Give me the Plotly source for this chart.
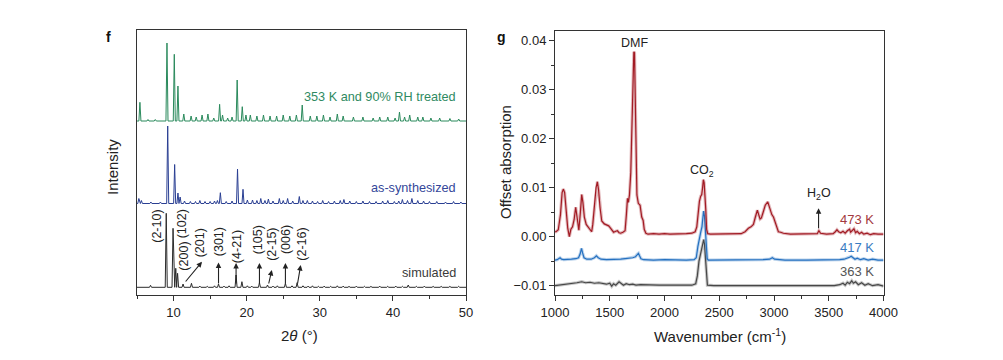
import plotly.graph_objects as go

# ---------------- DATA ----------------
# Panel f: XRD patterns (2theta in degrees, intensity in arbitrary offset units)
sim_offset = 7.7
sim_2theta = [6.85, 9.0, 9.93, 10.3, 10.55, 11.3, 12.45, 13.6, 14.6, 15.6, 16.15, 16.9, 17.6, 18.55, 19.35,
              20.1, 20.7, 21.75, 22.85, 23.6, 24.2, 25.3, 26.2, 26.9, 27.7, 28.4, 29.0, 29.8, 30.6, 31.5,
              32.4, 33.2, 34.0, 35.0, 36.1, 37.0, 38.2, 39.3, 40.4, 41.3, 42.1, 43.2, 44.3, 45.5, 46.6,
              47.8, 49.0]
sim_height = [2, 74, 59, 19, 14, 3.3, 4, 1.2, 1, 1.5, 3.3, 1.2, 1.5, 12.3, 5.6,
              1.5, 1.2, 4.6, 2.3, 1.2, 1.5, 4, 1.5, 4.6, 1.5, 1.2, 1.5, 1, 1.2, 1,
              1.5, 1.2, 1, 1.2, 1, 1, 1.2, 1, 1.2, 1, 2.3, 1, 1.2, 1, 1,
              1, 1]

as_offset = 91.5
as_2theta = [5.25, 5.6, 6.9, 8.2, 9.2, 10.15, 10.6, 10.9, 11.5, 12.3, 13.0, 13.6, 14.3, 15.0, 15.6,
             16.0, 16.4, 17.2, 18.0, 18.75, 19.5, 20.1, 20.8, 21.4, 21.93, 22.5, 22.97, 23.6, 24.47, 25.0,
             25.6, 26.3, 27.2, 27.7, 28.3, 29.0, 29.7, 30.4, 31.2, 32.0, 32.8, 33.3, 34.1, 35.0, 35.9,
             36.8, 37.7, 38.6, 39.3, 40.2, 40.8, 41.3, 42.0, 42.6, 43.4, 44.2, 45.0, 46.0, 47.2, 48.3, 49.3]
as_height = [5, 3, 1.5, 1.5, 77.5, 39, 10.5, 6.5, 2.5, 2, 2, 3, 2, 2, 2.5,
             3, 10.8, 2, 2.5, 34.5, 14.2, 3.5, 3.5, 3, 5, 3, 4.5, 2.5, 5, 3,
             5, 2.5, 7, 3, 3, 2.5, 2, 3, 2, 2.5, 3, 4, 2.5, 2, 2.5,
             2, 2, 2.5, 3, 2, 2.5, 4, 3, 5, 3, 2.5, 2, 2, 1.5, 2, 1.5]

tr_offset = 174
tr_2theta = [5.4, 6.5, 7.5, 9.1, 10.1, 10.6, 11.4, 12.4, 13.1, 13.9, 14.7, 15.5, 16.3, 16.7, 17.4,
             18.0, 18.7, 19.4, 19.9, 20.5, 21.4, 22.3, 23.2, 24.1, 25.0, 25.9, 26.8, 27.6, 28.7, 29.6,
             30.5, 31.4, 32.4, 33.2, 34.6, 35.9, 37.3, 38.2, 39.3, 40.3, 40.9, 41.6, 42.3, 43.4, 44.1,
             45.2, 46.4, 47.8, 49.0]
tr_height = [18.7, 1.5, 1.5, 78, 66.7, 35, 7, 5, 4, 6, 7, 3, 16.7, 6, 3,
             4, 41, 14.3, 6, 6, 5, 6, 5, 5, 6, 5, 6, 16, 5, 5,
             6, 4, 7, 5, 4, 4, 3, 4, 4, 3, 9, 4, 6, 4, 4,
             3, 3, 2.5, 2]

hkl_labels = ["(2-10)", "(102)", "(200)", "(201)", "(301)", "(4-21)", "(105)", "(2-15)", "(006)", "(2-16)"]
hkl_label_x = [7.7, 11.2, 11.38, 13.66, 16.15, 18.6, 21.6, 23.44, 25.39, 27.53]
hkl_label_y = [69, 71, 39, 52, 53.3, 48.3, 55, 51, 55, 51]
# arrows: tail (at peak) -> head (toward label)
arrow_tail_x = [11.48, 16.15, 18.55, 21.75, 22.97, 25.3, 26.93]
arrow_tail_y = [12, 10, 10, 10, 10, 10, 10]
arrow_head_x = [13.89, 16.15, 18.55, 21.75, 23.44, 25.3, 27.39]
arrow_head_y = [33.3, 32.5, 32, 32, 25, 32, 30]

# Panel g: FTIR (wavenumber cm-1, offset absorption)
wn_473 = [1000, 1010, 1030, 1050, 1065, 1076, 1088, 1100, 1116, 1131, 1145, 1160, 1175, 1189, 1200,
          1210, 1218, 1230, 1244, 1255, 1268, 1285, 1300, 1315, 1335, 1345, 1360, 1375, 1387, 1398,
          1411, 1427, 1450, 1472, 1490, 1505, 1520, 1535, 1555, 1570, 1585, 1600, 1620, 1640, 1652,
          1662, 1670, 1680, 1692, 1702, 1712, 1720, 1726, 1733, 1740, 1748, 1761, 1777, 1792, 1805,
          1815, 1830, 1850, 1900, 1950, 2000, 2050, 2100, 2150, 2200, 2250, 2280, 2295, 2305, 2319,
          2330, 2340, 2348, 2355, 2362, 2370, 2377, 2385, 2395, 2420, 2500, 2600, 2700, 2736, 2766,
          2790, 2812, 2830, 2848, 2860, 2873, 2885, 2900, 2920, 2943, 2955, 2964, 2980, 2995, 3010,
          3019, 3030, 3040, 3060, 3086, 3150, 3250, 3350, 3395, 3410, 3425, 3480, 3540, 3560, 3575,
          3590, 3610, 3630, 3650, 3670, 3690, 3700, 3715, 3730, 3745, 3760, 3780, 3800, 3820, 3850,
          3880, 3910, 3950, 4000]
abs_473 = [0.0010, 0.0010, 0.0014, 0.0045, 0.0090, 0.0097, 0.0090, 0.0060, 0.0018, 0.0000, 0.0015, 0.0020, 0.0035, 0.0060, 0.0042,
           0.0020, 0.0013, 0.0045, 0.0086, 0.0070, 0.0040, 0.0025, 0.0020, 0.0017, 0.0010, 0.0025, 0.0060, 0.0100, 0.0112, 0.0095,
           0.0060, 0.0032, 0.0026, 0.0024, 0.0022, 0.0018, 0.0012, 0.0009, 0.0011, 0.0012, 0.0008, 0.0007, 0.0009, 0.0012, 0.0045,
           0.0078, 0.0070, 0.0085, 0.0130, 0.0210, 0.0330, 0.0377, 0.0375, 0.0300, 0.0180, 0.0085, 0.0068, 0.0064, 0.0040, 0.0033,
           0.0015, 0.0007, 0.0005, 0.0006, 0.0005, 0.0006, 0.0005, 0.0005, 0.0006, 0.0006, 0.0007, 0.0010, 0.0020, 0.0045, 0.0072,
           0.0082, 0.0086, 0.0100, 0.0116, 0.0110, 0.0085, 0.0055, 0.0015, 0.0006, 0.0005, 0.0005, 0.0005, 0.0006, 0.0010, 0.0017,
           0.0020, 0.0025, 0.0040, 0.0054, 0.0045, 0.0036, 0.0038, 0.0050, 0.0064, 0.0071, 0.0062, 0.0054, 0.0045, 0.0040, 0.0030,
           0.0024, 0.0014, 0.0010, 0.0009, 0.0007, 0.0005, 0.0005, 0.0005, 0.0006, 0.0012, 0.0007, 0.0005, 0.0006, 0.0010, 0.0014,
           0.0010, 0.0008, 0.0011, 0.0007, 0.0012, 0.0015, 0.0009, 0.0013, 0.0016, 0.0008, 0.0011, 0.0006, 0.0009, 0.0005, 0.0007,
           0.0004, 0.0006, 0.0005, 0.0005]

wn_417 = [1000, 1020, 1046, 1060, 1080, 1110, 1150, 1190, 1215, 1230, 1242, 1252, 1265, 1290, 1330,
          1360, 1378, 1395, 1420, 1470, 1520, 1560, 1600, 1640, 1680, 1710, 1735, 1750, 1762, 1772,
          1785, 1810, 1900, 2000, 2100, 2200, 2270, 2290, 2305, 2319, 2332, 2342, 2350, 2357, 2365,
          2373, 2381, 2390, 2400, 2500, 2700, 2900, 2960, 2985, 3005, 3100, 3300, 3500, 3600, 3640,
          3670, 3690, 3705, 3720, 3740, 3760, 3790, 3820, 3860, 3900, 3950, 4000]
abs_417 = [-0.0048, -0.0047, -0.0043, -0.0046, -0.0047, -0.0046, -0.0046, -0.0045, -0.0043, -0.0035, -0.0024, -0.0033, -0.0043, -0.0046, -0.0046,
           -0.0043, -0.0039, -0.0043, -0.0046, -0.0047, -0.0047, -0.0046, -0.0046, -0.0045, -0.0044, -0.0043, -0.0041, -0.0036, -0.0034, -0.0039,
           -0.0045, -0.0047, -0.0048, -0.0047, -0.0048, -0.0048, -0.0047, -0.0043, -0.0020, 0.0000, 0.0010, 0.0020, 0.0040, 0.0052, 0.0042,
           0.0005, -0.0025, -0.0045, -0.0048, -0.0048, -0.0048, -0.0047, -0.0046, -0.0043, -0.0046, -0.0048, -0.0048, -0.0048, -0.0047, -0.0046,
           -0.0044, -0.0042, -0.0040, -0.0043, -0.0046, -0.0044, -0.0047, -0.0045, -0.0048, -0.0046, -0.0048, -0.0048]

wn_363 = [1000, 1040, 1080, 1120, 1160, 1200, 1244, 1280, 1320, 1360, 1400, 1440, 1470, 1500, 1518,
          1535, 1555, 1585, 1600, 1625, 1650, 1680, 1710, 1740, 1780, 1850, 1950, 2100, 2250, 2285,
          2300, 2315, 2330, 2345, 2352, 2358, 2365, 2373, 2383, 2392, 2450, 2700, 3000, 3300, 3550,
          3600, 3630, 3650, 3670, 3690, 3710, 3725, 3745, 3770, 3800, 3830, 3860, 3900, 3950, 4000]
abs_363 = [-0.0100, -0.0099, -0.0097, -0.0096, -0.0095, -0.0094, -0.0092, -0.0094, -0.0093, -0.0095, -0.0094, -0.0095, -0.0097, -0.0095, -0.0101,
           -0.0096, -0.0099, -0.0092, -0.0095, -0.0099, -0.0096, -0.0098, -0.0097, -0.0099, -0.0098, -0.0099, -0.0099, -0.0099, -0.0099, -0.0096,
           -0.0080, -0.0050, -0.0035, -0.0025, -0.0012, -0.0006, -0.0015, -0.0035, -0.0075, -0.0099, -0.0100, -0.0100, -0.0100, -0.0100, -0.0100,
           -0.0098, -0.0095, -0.0099, -0.0093, -0.0096, -0.0090, -0.0095, -0.0092, -0.0098, -0.0094, -0.0099, -0.0096, -0.0100, -0.0098, -0.0101]

# ---------------- FIGURE ----------------
W, H = 1003, 360
PAGE_OFF = 8  # default page body margin
FONT = "Arial, Liberation Sans, Helvetica, sans-serif"
AX = "#333333"
TXT = "#222222"

def px_x(p):
    return (p - PAGE_OFF) / W

def px_y(p):
    return 1 - (p - PAGE_OFF) / H

def spikes(pos, hgt, base, hw):
    xs, ys = [5.0], [base]
    for p, h in sorted(zip(pos, hgt)):
        xs += [p - hw, p, p + hw]
        ys += [base, base + h, base]
    xs.append(50.0)
    ys.append(base)
    return xs, ys

fig = go.Figure()

xs, ys = spikes(sim_2theta, sim_height, sim_offset, 0.14)
fig.add_trace(go.Scatter(x=xs, y=ys, mode="lines", line=dict(color="#2b2b2b", width=1), xaxis="x", yaxis="y"))
xs, ys = spikes(as_2theta, as_height, as_offset, 0.14)
fig.add_trace(go.Scatter(x=xs, y=ys, mode="lines", line=dict(color="#2a3f93", width=1), xaxis="x", yaxis="y"))
xs, ys = spikes(tr_2theta, tr_height, tr_offset, 0.14)
fig.add_trace(go.Scatter(x=xs, y=ys, mode="lines", line=dict(color="#2a8a5c", width=1), xaxis="x", yaxis="y"))

ir_series = [(wn_363, abs_363, "#474747", "rgba(70,70,70,0.30)"),
             (wn_417, abs_417, "#2470c0", "rgba(36,112,192,0.30)"),
             (wn_473, abs_473, "#a21b24", "rgba(162,27,36,0.30)")]
for wx, wy, col, halo in ir_series:
    fig.add_trace(go.Scatter(x=wx, y=wy, mode="lines", line=dict(color=halo, width=3.2), xaxis="x2", yaxis="y2"))
    fig.add_trace(go.Scatter(x=wx, y=wy, mode="lines", line=dict(color=col, width=1.2), xaxis="x2", yaxis="y2"))

ann = []
# hkl labels
for t, x, y in zip(hkl_labels, hkl_label_x, hkl_label_y):
    ann.append(dict(text=t, x=x, y=y, xref="x", yref="y", showarrow=False, textangle=-90,
                    xanchor="center", yanchor="middle",
                    font=dict(size=12.5, color=TXT, family=FONT)))
for tx, ty, hx, hy in zip(arrow_tail_x, arrow_tail_y, arrow_head_x, arrow_head_y):
    ann.append(dict(text="", x=hx, y=hy, ax=tx, ay=ty, xref="x", yref="y", axref="x", ayref="y",
                    showarrow=True, arrowhead=2, arrowsize=1, arrowwidth=1.1, arrowcolor=TXT,
                    standoff=0, startstandoff=0))
# series labels panel f
for t, y, c in [("353 K and 90% RH treated", 197.7, "#2f8a62"),
                ("as-synthesized", 106.7, "#34479a"),
                ("simulated", 21.7, "#3a3a3a")]:
    ann.append(dict(text=t, x=48.85, y=y, xref="x", yref="y", xanchor="right", yanchor="middle",
                    showarrow=False, font=dict(size=12.7, color=c, family=FONT)))
# panel g labels
for t, y, c in [("473 K", 0.0036, "#a33a40"), ("417 K", -0.0022, "#3a7cc2"), ("363 K", -0.0071, "#555555")]:
    ann.append(dict(text=t, x=3935, y=y, xref="x2", yref="y2", xanchor="right", yanchor="middle",
                    showarrow=False, font=dict(size=13, color=c, family=FONT)))
ann.append(dict(text="DMF", x=1725, y=0.0394, xref="x2", yref="y2", showarrow=False,
                xanchor="center", yanchor="middle", font=dict(size=12.5, color=TXT, family=FONT)))
ann.append(dict(text="CO<sub>2</sub>", x=2340, y=0.0134, xref="x2", yref="y2", showarrow=False,
                xanchor="center", yanchor="middle", font=dict(size=12.5, color=TXT, family=FONT)))
ann.append(dict(text="H<sub>2</sub>O", x=3407, y=0.0087, xref="x2", yref="y2", showarrow=False,
                xanchor="center", yanchor="middle", font=dict(size=12.5, color=TXT, family=FONT)))
ann.append(dict(text="", x=3407, y=0.0058, ax=3407, ay=0.0014, xref="x2", yref="y2", axref="x2", ayref="y2",
                showarrow=True, arrowhead=2, arrowsize=1, arrowwidth=1.1, arrowcolor=TXT,
                standoff=0, startstandoff=0))
# axis titles and panel letters
def paper_text(t, x, y, size, angle=0, color=TXT):
    return dict(text=t, x=px_x(x), y=px_y(y), xref="paper", yref="paper", showarrow=False,
                xanchor="center", yanchor="middle", textangle=angle,
                font=dict(size=size, color=color, family=FONT))

ann.append(paper_text("Intensity", 112, 167, 15, -90))
ann.append(paper_text("2<i>θ</i> (°)", 299, 335, 15))
ann.append(paper_text("Offset absorption", 505, 162, 15, -90))
ann.append(paper_text("Wavenumber (cm<sup>-1</sup>)", 720, 335, 15))
ann.append(paper_text("<b>f</b>", 108, 37, 14, 0, "#111111"))
ann.append(paper_text("<b>g</b>", 501, 37, 14, 0, "#111111"))

tickfont = dict(size=13, color=TXT, family=FONT)
common = dict(showline=True, mirror=True, linecolor=AX, linewidth=1, showgrid=False, zeroline=False,
              ticks="outside", tickcolor=AX, tickwidth=1, ticklen=5, tickfont=tickfont, automargin=False)

fig.update_layout(
    width=W, height=H, margin=dict(l=0, r=0, t=0, b=0, pad=0, autoexpand=False),
    paper_bgcolor="white", plot_bgcolor="white", showlegend=False,
    font=dict(family=FONT),
    xaxis=dict(domain=[px_x(137), px_x(466)], range=[5, 50], tick0=10, dtick=10,
               minor=dict(dtick=5, ticks="outside", ticklen=3, tickcolor=AX), anchor="y", **common),
    yaxis=dict(domain=[px_y(295), px_y(30)], range=[0, 265], showticklabels=False,
               **{k: v for k, v in common.items() if k not in ("ticks",)}, ticks="", anchor="x"),
    xaxis2=dict(domain=[px_x(555), px_x(883.5)], range=[1000, 4000], dtick=500,
                minor=dict(dtick=250, ticks="outside", ticklen=3, tickcolor=AX), anchor="y2", **common),
    yaxis2=dict(domain=[px_y(295), px_y(30.7)], range=[-0.0119, 0.042], dtick=0.01, tickformat=".2f",
                minor=dict(dtick=0.005, ticks="outside", ticklen=3, tickcolor=AX), anchor="x2", **common),
    annotations=ann,
)

fig.write_html("out.html")
